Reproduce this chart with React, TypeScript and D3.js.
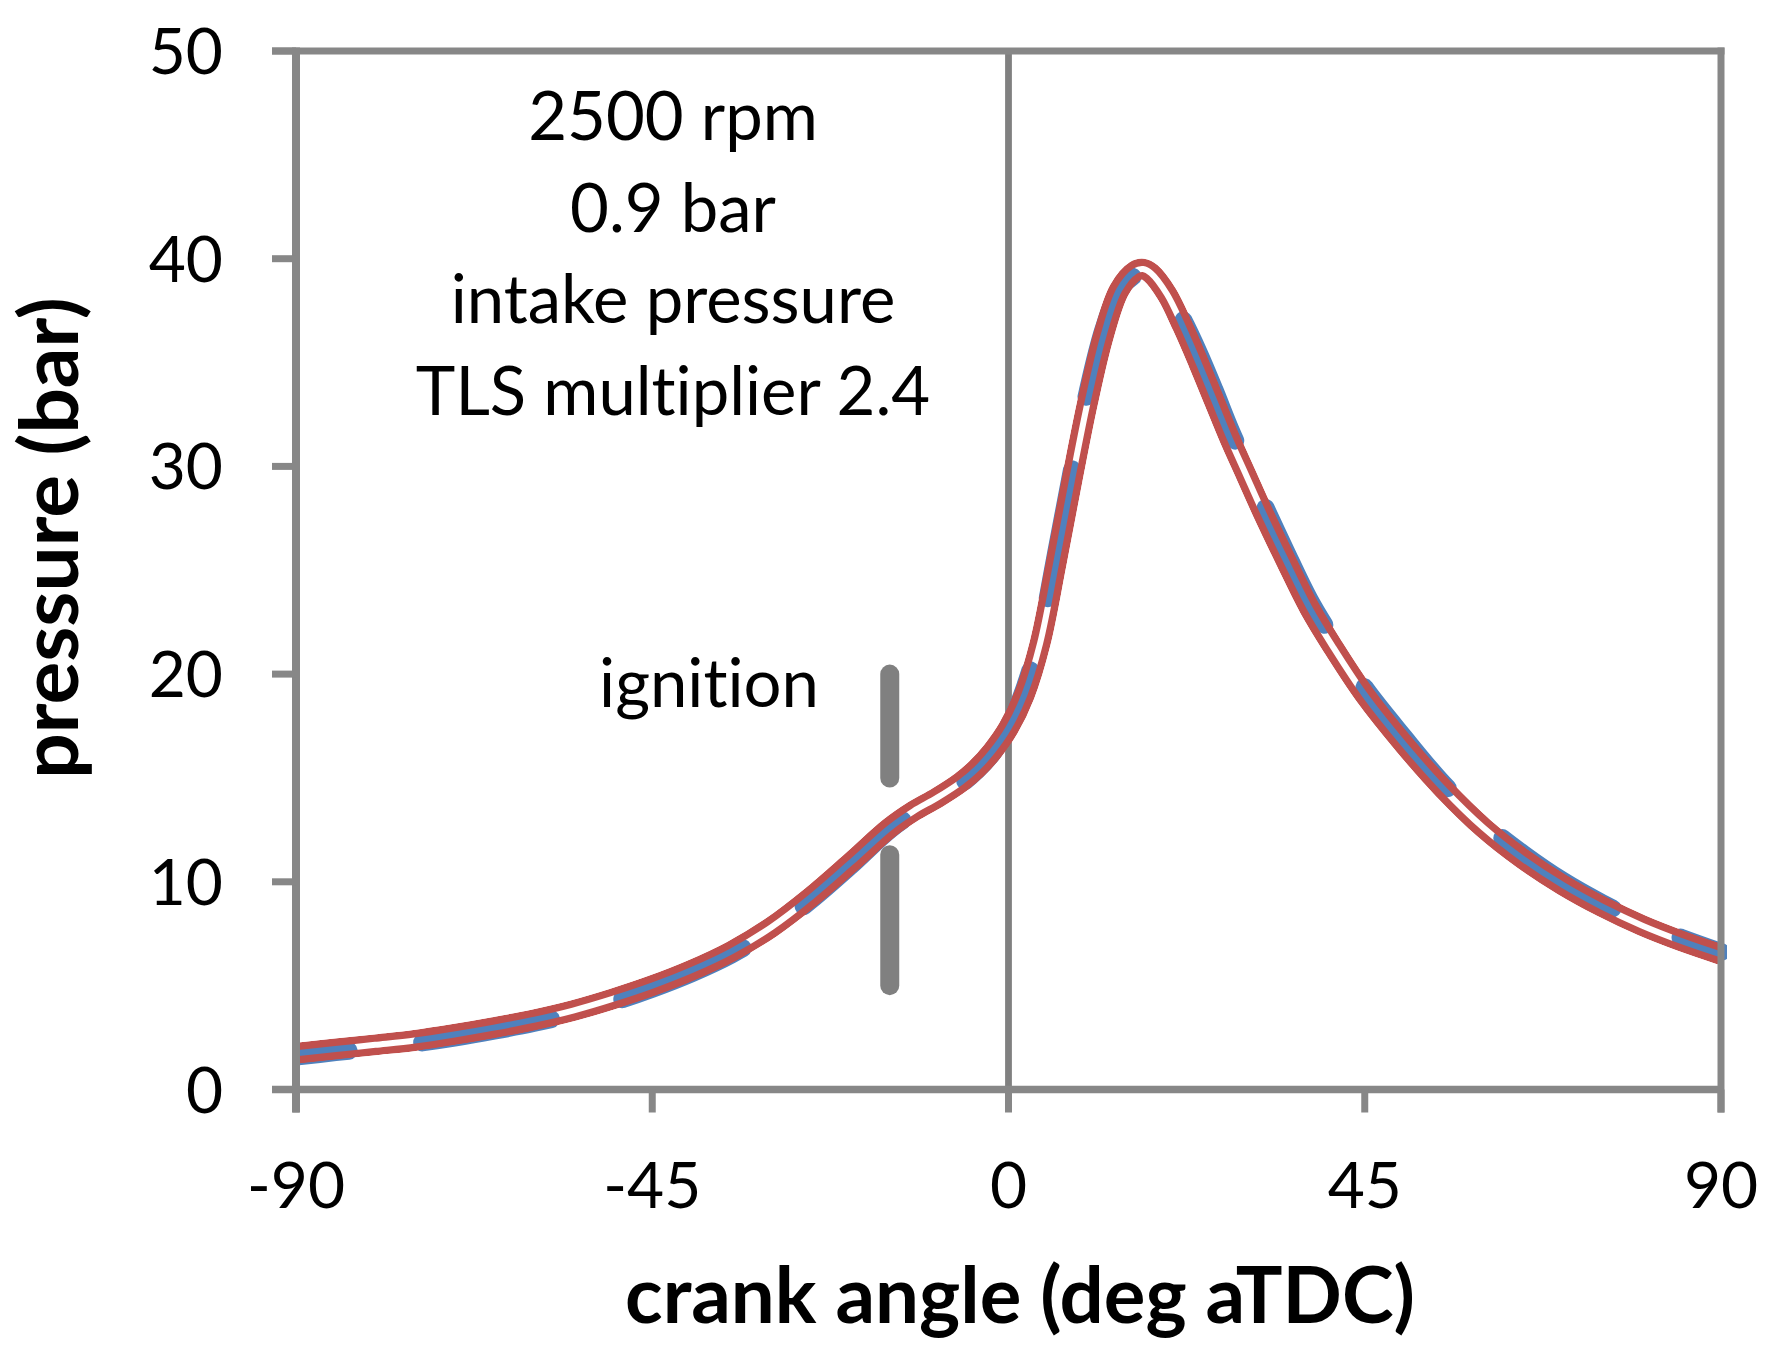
import React from "react";
import * as d3 from "d3";

const angles = [-90, -85, -80, -75, -70, -65, -60, -55, -50, -45, -40, -35, -30, -25, -20, -15, -12, -9, -6, -4, -2, 0, 2, 4, 6, 8, 10, 12, 14, 16, 17, 18, 20, 22, 24, 26, 28, 30, 32, 35, 38, 41, 45, 50, 55, 60, 65, 70, 75, 80, 85, 90];

const modelPressure = [1.74, 1.95, 2.15, 2.36, 2.65, 2.98, 3.35, 3.8, 4.36, 5.0, 5.75, 6.65, 7.8, 9.25, 10.9, 12.6, 13.4, 14.05, 14.8, 15.45, 16.3, 17.4, 19.0, 21.5, 25.3, 29.3, 33.1, 36.3, 38.5, 39.4, 39.5, 39.3, 38.3, 36.75, 35.0, 33.15, 31.3, 29.6, 27.9, 25.5, 23.2, 21.3, 19.0, 16.6, 14.45, 12.6, 11.1, 9.85, 8.8, 7.9, 7.15, 6.5];

const measuredPressure = [1.58, 1.8, 2.0, 2.22, 2.5, 2.83, 3.2, 3.65, 4.2, 4.85, 5.6, 6.5, 7.65, 9.1, 10.75, 12.5, 13.3, 13.95, 14.7, 15.35, 16.2, 17.45, 19.3, 21.9, 25.8, 29.8, 33.6, 36.6, 38.5, 39.2, 39.25, 39.1, 38.4, 37.1, 35.5, 33.7, 31.8, 30.1, 28.4, 25.95, 23.6, 21.7, 19.35, 16.95, 14.7, 12.85, 11.35, 10.05, 8.97, 8.05, 7.3, 6.62];

const xTicks = [-90, -45, 0, 45, 90];
const yTicks = [0, 10, 20, 30, 40, 50];

const ignitionAngle = -15;
const ignitionSegments: [number, number][] = [
  [20, 15],
  [11.3, 5],
];

const annotationLines = ["2500 rpm", "0.9 bar", "intake pressure", "TLS multiplier 2.4"];

const W = 1784;
const H = 1370;
const FONT = "Lato, 'Open Sans', sans-serif";
const AXIS = "#878787";
const RED = "#C0504D";
const BLUE = "#4F81BD";
const noLig = { fontVariantLigatures: "none", fontFeatureSettings: "'liga' 0, 'clig' 0" } as React.CSSProperties;

export default function App() {
  const x = d3.scaleLinear().domain([-90, 90]).range([296, 1721]);
  const y = d3.scaleLinear().domain([0, 50]).range([1089.5, 51]);

  const line = d3
    .line<number>()
    .x((_, i) => x(angles[i]))
    .y((d) => y(d))
    .curve(d3.curveCatmullRom.alpha(0.5));

  const redPath = line(modelPressure) || "";
  const bluePath = line(measuredPressure) || "";

  const x0 = x.range()[0];
  const x1 = x.range()[1];
  const yb = y(0);
  const yt = y(50);

  return (
    <svg
      width={W}
      height={H}
      viewBox={`0 0 ${W} ${H}`}
      style={{ position: "absolute", left: 0, top: 0, background: "#fff", ...noLig }}
      fontFamily={FONT}
    >
      <defs>
        <clipPath id="plotClip">
          <rect x={x0} y={0} width={x1 - x0 + 6} height={H} />
        </clipPath>
        <mask id="redMask" maskUnits="userSpaceOnUse" x={0} y={0} width={W} height={H}>
          <path d={redPath} fill="none" stroke="white" strokeWidth={21} />
          <path d={redPath} fill="none" stroke="black" strokeWidth={6} />
        </mask>
      </defs>
      <rect x={0} y={0} width={W} height={H} fill="#fff" />

      {/* zero crank angle line */}
      <line x1={x(0)} x2={x(0)} y1={yt} y2={yb} stroke="#808080" strokeWidth={6.8} />

      {/* ignition marker */}
      {ignitionSegments.map(([a, b], i) => (
        <line
          key={i}
          x1={x(ignitionAngle)}
          x2={x(ignitionAngle)}
          y1={y(a)}
          y2={y(b)}
          stroke="#808080"
          strokeWidth={19}
          strokeLinecap="round"
        />
      ))}

      {/* curves */}
      <g clipPath="url(#plotClip)">
        <path
          d={bluePath}
          fill="none"
          stroke={BLUE}
          strokeWidth={18}
          strokeLinecap="round"
          strokeDasharray="131 74"
          strokeDashoffset={78}
        />
        <path d={redPath} fill="none" stroke={RED} strokeWidth={21} mask="url(#redMask)" />
      </g>

      {/* frame */}
      <line x1={x0 - 24} x2={x1 + 3.5} y1={yt} y2={yt} stroke={AXIS} strokeWidth={7} />
      <line x1={x1} x2={x1} y1={yt - 3.5} y2={yb + 23} stroke={AXIS} strokeWidth={7} />
      <line x1={x0} x2={x0} y1={yt - 3.5} y2={yb + 23} stroke={AXIS} strokeWidth={8} />
      <line x1={x0 - 24} x2={x1} y1={yb} y2={yb} stroke={AXIS} strokeWidth={7.5} />

      {/* y ticks */}
      {yTicks.map((t) => (
        <g key={`y${t}`}>
          <line x1={x0 - 24} x2={x0} y1={y(t)} y2={y(t)} stroke={AXIS} strokeWidth={7} />
          <text x={223} y={y(t) + 23} textAnchor="end" fontSize={64} fill="#000">
            {t}
          </text>
        </g>
      ))}

      {/* x ticks */}
      {xTicks.map((t) => (
        <g key={`x${t}`}>
          <line x1={x(t)} x2={x(t)} y1={yb} y2={yb + 23} stroke={AXIS} strokeWidth={7} />
          <text x={x(t)} y={1208} textAnchor="middle" fontSize={64} fill="#000">
            {t}
          </text>
        </g>
      ))}

      {/* annotation */}
      {annotationLines.map((s, i) => (
        <text key={s} x={673} y={140 + i * 91.5} textAnchor="middle" fontSize={67} fill="#000">
          {s}
        </text>
      ))}
      <text x={709} y={707} textAnchor="middle" fontSize={67} fill="#000">
        ignition
      </text>

      {/* axis titles */}
      <text x={1020} y={1323} textAnchor="middle" fontSize={78} fontWeight={700} fill="#000">
        crank angle (deg aTDC)
      </text>
      <text
        transform={`translate(78, 538) rotate(-90)`}
        textAnchor="middle"
        fontSize={80}
        fontWeight={700}
        fill="#000"
      >
        pressure (bar)
      </text>
    </svg>
  );
}
